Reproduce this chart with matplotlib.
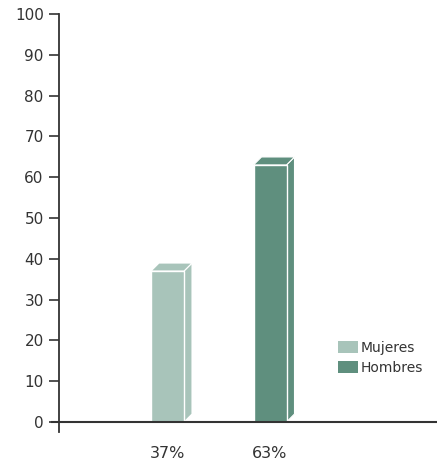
import matplotlib
matplotlib.use("Agg")
import matplotlib.pyplot as plt
from matplotlib.patches import Polygon, Patch

categories = ["Mujeres", "Hombres"]
values = [37, 63]
labels = ["37%", "63%"]
colors = ["#a8c4ba", "#5f8f7e"]
yticks = [0, 10, 20, 30, 40, 50, 60, 70, 80, 90, 100]

plt.rcParams['font.family'] = ['DejaVu Sans']
W, H = 437, 467
fig = plt.figure(figsize=(W / 100, H / 100), dpi=100)
# axes: x from 59 to 437 px, y from 432 (bottom) to 14 (top)
ax = fig.add_axes([59 / W, (H - 432) / H, (437 - 59) / W, (432 - 14) / H])
px_per_unit_y = 408 / 100
ax.set_ylim(-10 / px_per_unit_y, 100)
pxu = 102.5
ax.set_xlim(-(167.5 - 59) / pxu, (437 - 167.5) / pxu)

bw = 33 / pxu
dx = 8 / pxu
dy = 8 / px_per_unit_y
for i, (v, c) in enumerate(zip(values, colors)):
    l, r = i - bw / 2, i + bw / 2
    side = Polygon([(r, 0), (r + dx, dy), (r + dx, v + dy), (r, v)], closed=True,
                   facecolor=c, edgecolor='white', linewidth=0.8, zorder=2)
    top = Polygon([(l, v), (l + dx, v + dy), (r + dx, v + dy), (r, v)], closed=True,
                  facecolor=c, edgecolor='white', linewidth=0.8, zorder=2)
    ax.add_patch(side)
    ax.add_patch(top)
    ax.bar(i, v, width=bw, color=c, edgecolor='white', linewidth=1.0, zorder=3)

ax.axhline(0, color='#333333', linewidth=1.5, zorder=4, xmin=-7 / 378, xmax=1, clip_on=False)

for s in ['top', 'right', 'bottom']:
    ax.spines[s].set_visible(False)
ax.spines['left'].set_color('#333333')
ax.spines['left'].set_linewidth(1.3)
ax.set_yticks(yticks)
ax.set_yticklabels([str(t) for t in yticks])
ax.tick_params(axis='y', direction='out', length=7, width=1.2, color='#333333',
               labelsize=11, labelcolor='#333333', pad=4)
ax.set_xticks(range(len(labels)))
ax.set_xticklabels(labels)
ax.tick_params(axis='x', length=0, labelsize=11.5, labelcolor='#333333', pad=10)

handles = [Patch(facecolor=c, edgecolor='none') for c in colors]
leg = ax.legend(handles, categories, loc='upper left', bbox_to_anchor=((338 - 59) / 378, (432 - 341) / 418),
                frameon=False, fontsize=10, handlelength=1.45, handleheight=0.95,
                handletextpad=0.15, labelspacing=0.4, borderaxespad=0, borderpad=0)
for t in leg.get_texts():
    t.set_color('#333333')

fig.savefig("out.png", dpi=100)
